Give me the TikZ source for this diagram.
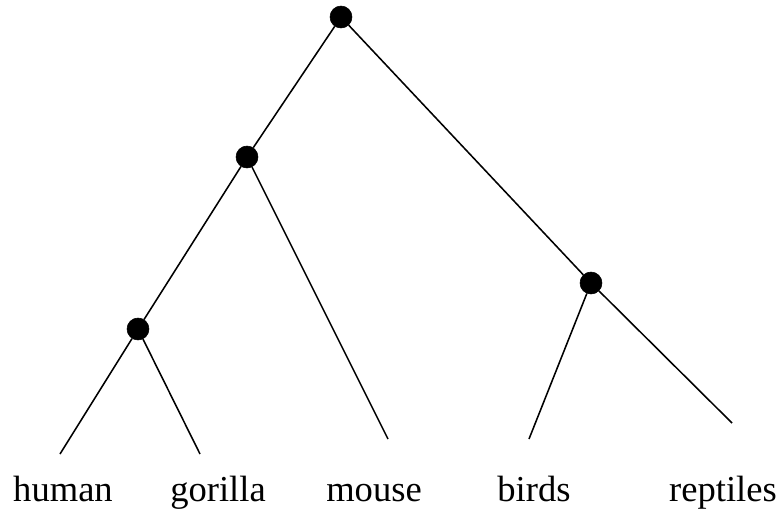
\documentclass[tikz,border=0pt]{standalone}
\usepackage{fontspec}
\setmainfont{Liberation Serif}
\usepackage{tikz}
\newcommand{\dotsize}{22}
\tikzset{
  x=0.025cm,
  y=-0.025cm,
  font=\fontsize{26}{30}\selectfont,
  inner/.style={draw,fill=black,shape=circle,minimum size=\dotsize*0.025cm,inner sep=0},
  leaf/.style={anchor=base,inner sep=0},
  edge/.style={draw,line width=1.1pt},
}

\begin{document}
\begin{tikzpicture}
      \useasboundingbox (0,0) rectangle (781,509);
      % internal nodes
      \node (root) [inner] at (341,17) {};
      \node (prim) [inner] at (247,157) {};
      \node (hg) [inner] at (138,329) {};
      \node (amn) [inner] at (591,283) {};
      % free ends
      \coordinate (human) at (60,454);
      \coordinate (gorilla) at (200,454);
      \coordinate (mouse) at (388,439);
      \coordinate (birds) at (529,439);
      \coordinate (reptiles) at (732,423);
      \path [edge] (root) -- (prim);
      \path [edge] (root) -- (amn);
      \path [edge] (prim) -- (hg);
      \path [edge] (prim) -- (mouse);
      \path [edge] (hg) -- (human);
      \path [edge] (hg) -- (gorilla);
      \path [edge] (amn) -- (birds);
      \path [edge] (amn) -- (reptiles);
      % labels
      \node (humanlbl) [leaf] at (63,501) {human};
      \node (gorillalbl) [leaf] at (218,501) {gorilla};
      \node (mouselbl) [leaf] at (374,501) {mouse};
      \node (birdslbl) [leaf] at (534,501) {birds};
      \node (reptileslbl) [leaf] at (723,501) {reptiles};
    \end{tikzpicture}
\end{document}
